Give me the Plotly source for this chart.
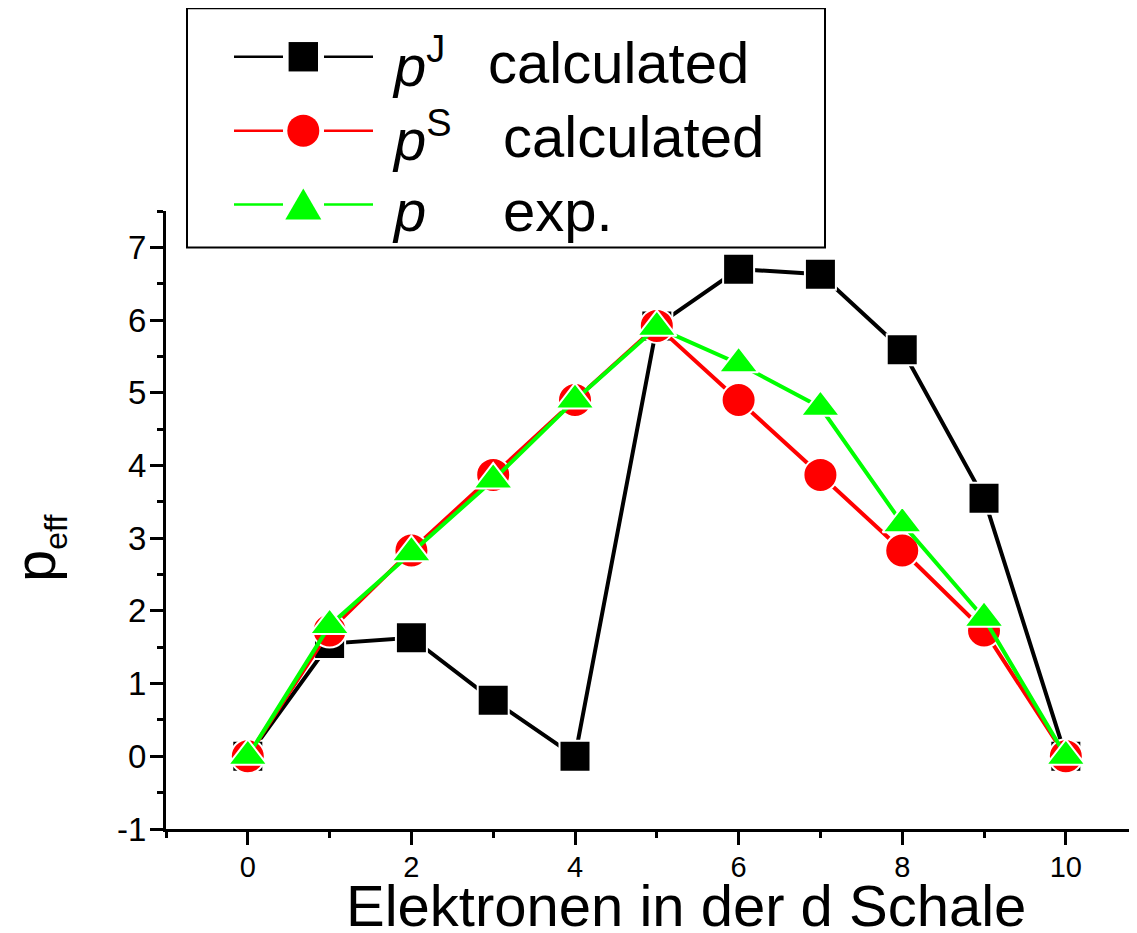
import plotly.graph_objects as go

# ---------------- data ----------------
electrons = [0, 1, 2, 3, 4, 5, 6, 7, 8, 9, 10]
p_J = [0, 1.55, 1.63, 0.77, 0, 5.92, 6.70, 6.63, 5.59, 3.55, 0]
p_S = [0, 1.73, 2.83, 3.87, 4.90, 5.92, 4.90, 3.87, 2.83, 1.73, 0]
p_exp = [0, 1.8, 2.8, 3.8, 4.9, 5.9, 5.4, 4.8, 3.2, 1.9, 0]

x_ticks = [0, 2, 4, 6, 8, 10]
y_ticks = [-1, 0, 1, 2, 3, 4, 5, 6, 7]

series_names = ["p<sup>J</sup> calculated", "p<sup>S</sup> calculated", "p exp."]
legend_sym = ["<i>p</i><sup><span style='font-size:38px'>J</span></sup>",
              "<i>p</i><sup><span style='font-size:38px'>S</span></sup>",
              "<i>p</i>"]
legend_txt = ["calculated", "calculated", "exp."]

# ---------------- layout geometry ----------------
# page body has an 8px margin: the figure starts at screen (8, 8)
OFF = 8
W, H = 1137 - OFF, 933 - OFF
# plot area in screen pixels
L, R, T, B = 166, 1137, 210.5, 829.5
FONT = "Liberation Sans, Arial, sans-serif"


def px(x):
    return (x - L) / (R - L)


def py(y):
    return (B - y) / (B - T)


BLACK, RED, GREEN = "#000000", "#ff0000", "#00ff00"

fig = go.Figure()
fig.add_trace(go.Scatter(
    x=electrons, y=p_J, mode="lines+markers", name=series_names[0],
    line=dict(color=BLACK, width=4),
    marker=dict(symbol="square", size=31, color=BLACK, line=dict(color="white", width=2)),
    showlegend=False,
))
fig.add_trace(go.Scatter(
    x=electrons, y=p_S, mode="lines+markers", name=series_names[1],
    line=dict(color=RED, width=4),
    marker=dict(symbol="circle", size=34, color=RED, line=dict(color="white", width=2)),
    showlegend=False,
))
fig.add_trace(go.Scatter(
    x=electrons, y=p_exp, mode="lines+markers", name=series_names[2],
    line=dict(color=GREEN, width=4),
    marker=dict(symbol="triangle-up", size=34, color=GREEN, line=dict(color="white", width=2)),
    showlegend=False,
))

# ---------------- manual legend ----------------
shapes = []
annotations = []
shapes.append(dict(type="rect", xref="paper", yref="paper",
                   x0=px(187), x1=px(825), y0=py(247), y1=py(7.5),
                   line=dict(color=BLACK, width=2), fillcolor="white", layer="above"))
rows_y = [56, 130, 204]
colors = [BLACK, RED, GREEN]
mx = 303.3
for i, (ry, c) in enumerate(zip(rows_y, colors)):
    for (a, b) in [(234, 283), (324, 373)]:
        shapes.append(dict(type="line", xref="paper", yref="paper",
                           x0=px(a), x1=px(b), y0=py(ry), y1=py(ry),
                           line=dict(color=c, width=2.5), layer="above"))
    common = dict(xref="paper", yref="paper", xsizemode="pixel", ysizemode="pixel",
                  xanchor=px(mx), yanchor=py(ry), fillcolor=c, line=dict(width=0), layer="above")
    if i == 0:
        shapes.append(dict(type="rect", x0=-14.7, x1=14.7, y0=-14.7, y1=14.7, **common))
    elif i == 1:
        shapes.append(dict(type="circle", x0=-16, x1=16, y0=-16, y1=16, **common))
    else:
        shapes.append(dict(type="path", path="M -18,-15 L 18,-15 L 0,16 Z", **common))
    annotations.append(dict(xref="paper", yref="paper", x=px(390), y=py(ry + 6),
                            xanchor="left", yanchor="middle", showarrow=False,
                            text=legend_sym[i], font=dict(family=FONT, size=58, color=BLACK)))
    annotations.append(dict(xref="paper", yref="paper", x=px(486 if i == 0 else 501), y=py(ry + 6),
                            xanchor="left", yanchor="middle", showarrow=False,
                            text=legend_txt[i], font=dict(family=FONT, size=58, color=BLACK)))

# axis titles as annotations
annotations.append(dict(xref="paper", yref="paper", x=px(686), y=py(906),
                        xanchor="center", yanchor="middle", showarrow=False,
                        text="Elektronen in der d Schale",
                        font=dict(family=FONT, size=58, color=BLACK)))
annotations.append(dict(xref="paper", yref="paper", x=px(38), y=py(549),
                        xanchor="center", yanchor="middle", showarrow=False, textangle=-90,
                        text="p<sub><span style='font-size:32px'>eff</span></sub>",
                        font=dict(family=FONT, size=58, color=BLACK)))

fig.update_layout(
    width=W, height=H,
    margin=dict(l=L - OFF, r=W - (R - OFF), t=T - OFF, b=H - (B - OFF), pad=0),
    paper_bgcolor="white", plot_bgcolor="white",
    shapes=shapes, annotations=annotations,
    showlegend=False,
    xaxis=dict(range=[-1, 10.87], tickvals=x_ticks, ticktext=[str(v) for v in x_ticks],
               showgrid=False, zeroline=False, showline=True, linewidth=3, linecolor=BLACK,
               ticks="outside", ticklen=13, tickwidth=3, tickcolor=BLACK,
               ticklabelstandoff=-3,
               minor=dict(dtick=1, tick0=0, ticks="outside", ticklen=6, tickwidth=3, tickcolor=BLACK),
               tickfont=dict(family=FONT, size=29, color=BLACK)),
    yaxis=dict(range=[-1, 7.5], tickvals=y_ticks, ticktext=[str(v) for v in y_ticks],
               showgrid=False, zeroline=False, showline=True, linewidth=3, linecolor=BLACK,
               ticks="outside", ticklen=13, tickwidth=3, tickcolor=BLACK,
               ticklabelstandoff=-3,
               minor=dict(dtick=0.5, tick0=0, ticks="outside", ticklen=6, tickwidth=3, tickcolor=BLACK),
               tickfont=dict(family=FONT, size=33, color=BLACK)),
)

fig.write_html("out.html")
